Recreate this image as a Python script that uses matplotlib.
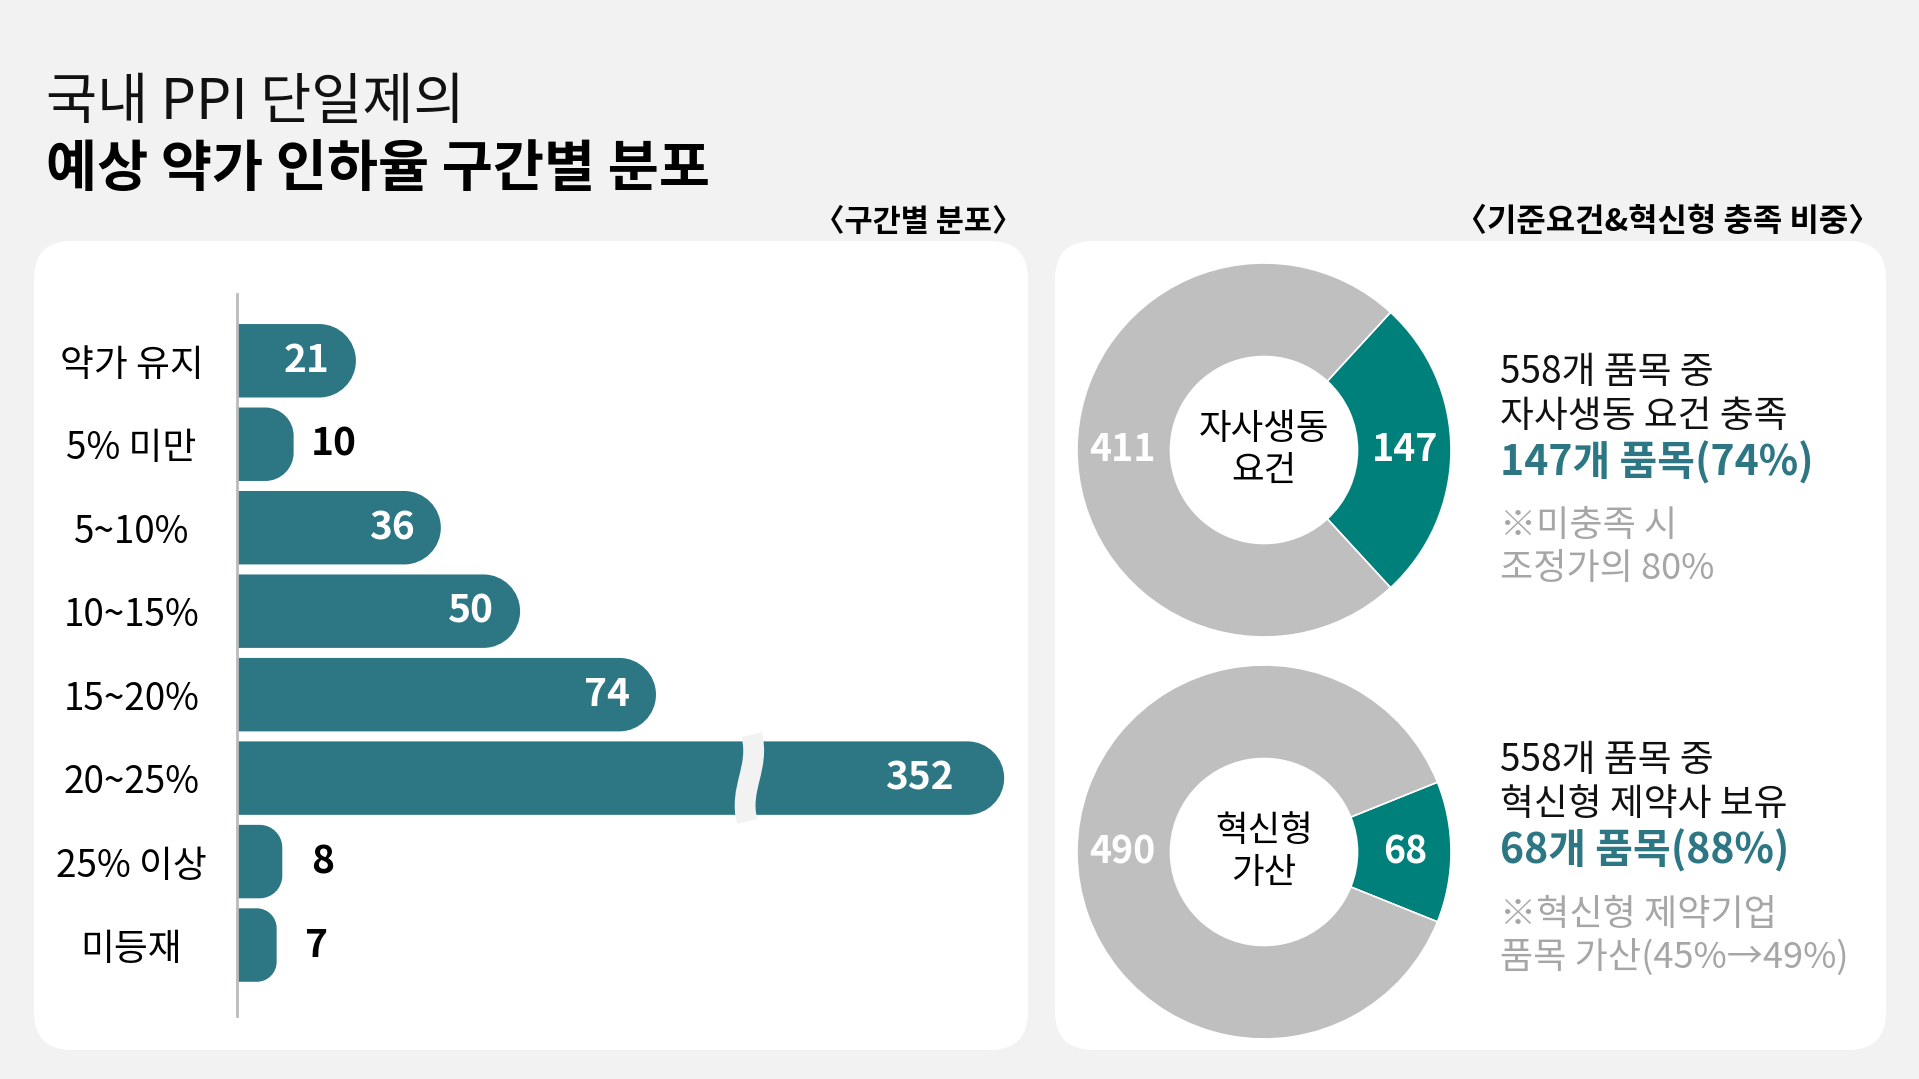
import matplotlib
matplotlib.use("Agg")
import matplotlib.pyplot as plt
from matplotlib.patches import FancyBboxPatch, PathPatch
from matplotlib.path import Path

plt.rcParams['font.family'] = ['Noto Sans CJK KR', 'DejaVu Sans']

# data
categories = ['약가 유지', '5% 미만', '5~10%', '10~15%', '15~20%', '20~25%', '25% 이상', '미등재']
counts = [21, 10, 36, 50, 74, 352, 8, 7]
label_inside = [True, False, True, True, True, True, False, False]

total_items = 558
donut1_values = [147, 411]
donut1_center = '자사생동\n요건'
donut2_values = [68, 490]
donut2_center = '혁신형\n가산'

title_line1 = '국내 PPI 단일제의'
title_line2 = '예상 약가 인하율 구간별 분포'
left_header = '〈구간별 분포〉'
right_header = '〈기준요건&혁신형 충족 비중〉'

note1 = ['558개 품목 중', '자사생동 요건 충족', '147개 품목(74%)', '※미충족 시', '조정가의 80%']
note2 = ['558개 품목 중', '혁신형 제약사 보유', '68개 품목(88%)', '※혁신형 제약기업', '품목 가산(45%→49%)']

# colours
BG = '#f2f2f2'
BAR = '#2d7784'
TEAL = '#00807b'
GREY = '#bfbfbf'
NOTE = '#a6a6a6'

W, H = 1919, 1079
fig = plt.figure(figsize=(W / 100, H / 100), dpi=100, facecolor=BG)

# background layer in pixel coords
bg = fig.add_axes([0, 0, 1, 1], zorder=0)
bg.set_xlim(0, W)
bg.set_ylim(H, 0)
bg.axis('off')

for x0, x1 in [(34, 1028), (1055, 1886)]:
    bg.add_patch(FancyBboxPatch((x0, 241), x1 - x0, 1050 - 241,
                                boxstyle='round,pad=0,rounding_size=38',
                                fc='white', ec='none'))

bg.text(46, 103, title_line1, fontsize=40, va='center', ha='left', color='#111111')
bg.text(46, 170, title_line2, fontsize=40, fontweight='heavy', va='center', ha='left', color='#000000')
bg.text(1022, 222, left_header, fontsize=22, fontweight='bold', va='center', ha='right')
bg.text(1880, 222, right_header, fontsize=23, fontweight='bold', va='center', ha='right')

# bar chart
ax_l, ax_r, ax_t, ax_b = 237, 1007, 294, 1016
ax = fig.add_axes([ax_l / W, 1 - ax_b / H, (ax_r - ax_l) / W, (ax_b - ax_t) / H], zorder=2)
ax.set_facecolor('none')
XMAX = 136
ax.set_xlim(0, XMAX)
ax.set_ylim(7.85, -0.8)
cap = 135.5
bar_h = 0.88
sx = (ax_r - ax_l) / XMAX
sy = (ax_b - ax_t) / 8.65
k = 0.5523

for i, v in enumerate(counts):
    w = min(v, cap)
    hh = bar_h / 2
    r_px = min(bar_h * sy / 2, w * sx / 2)
    rx, ry = r_px / sx, r_px / sy
    top, bot = i - hh, i + hh
    verts = [(0, top), (w - rx, top),
             (w - rx + k * rx, top), (w, top + ry - k * ry), (w, top + ry),
             (w, bot - ry),
             (w, bot - ry + k * ry), (w - rx + k * rx, bot), (w - rx, bot),
             (0, bot), (0, top)]
    codes = [Path.MOVETO, Path.LINETO,
             Path.CURVE4, Path.CURVE4, Path.CURVE4,
             Path.LINETO,
             Path.CURVE4, Path.CURVE4, Path.CURVE4,
             Path.LINETO, Path.CLOSEPOLY]
    ax.add_patch(PathPatch(Path(verts, codes), fc=BAR, ec='none', clip_on=False))
    if label_inside[i]:
        pad = 50 if v > cap else 26
        ax.text(w - pad / sx, i, str(v), ha='right', va='center', color='white',
                fontsize=28, fontweight='bold')
    else:
        ax.text(w + 40 / sx, i, str(v), ha='center', va='center', color='black',
                fontsize=28, fontweight='bold')
    if v > cap:
        brk = Path([(90.9, i - 0.52), (92.4, i - 0.12), (88.6, i + 0.12), (90.1, i + 0.52)],
                   [Path.MOVETO, Path.CURVE4, Path.CURVE4, Path.CURVE4])
        ax.add_patch(PathPatch(brk, fc='none', ec=BG, lw=15, capstyle='butt', clip_on=False))

ax.set_yticks(range(len(categories)), labels=categories)
for lab in ax.get_yticklabels():
    lab.set_ha('center')
ax.tick_params(axis='y', length=0, pad=76, labelsize=26.5)
ax.set_xticks([])
for s in ['top', 'right', 'bottom']:
    ax.spines[s].set_visible(False)
ax.spines['left'].set_color('#bbbbbb')
ax.spines['left'].set_linewidth(2)


# donuts
def donut(cx, cy, values, center_text):
    R = 187
    dax = fig.add_axes([(cx - R) / W, 1 - (cy + R) / H, 2 * R / W, 2 * R / H], zorder=2)
    frac = values[0] / sum(values)
    dax.pie(values, colors=[TEAL, GREY], startangle=-frac * 180, counterclock=True,
            radius=1, wedgeprops=dict(width=0.5, edgecolor='white', linewidth=1.2))
    dax.set_xlim(-1, 1)
    dax.set_ylim(-1, 1)
    dax.set_aspect('equal')
    dax.text(0.755, 0, str(values[0]), ha='center', va='center', color='white',
             fontsize=27, fontweight='bold')
    dax.text(-0.755, 0, str(values[1]), ha='center', va='center', color='white',
             fontsize=27, fontweight='bold')
    dax.text(0, 0, center_text, ha='center', va='center', fontsize=25.5,
             linespacing=1.2, color='black')


donut(1264, 450, donut1_values, donut1_center)
donut(1264, 852, donut2_values, donut2_center)

# notes next to donuts
def notes(lines, ys):
    styles = [dict(color='#111111', fontsize=26.5),
              dict(color='#111111', fontsize=26.5),
              dict(color=BAR, fontsize=29.5, fontweight='bold'),
              dict(color=NOTE, fontsize=26),
              dict(color=NOTE, fontsize=26)]
    for txt, y, st in zip(lines, ys, styles):
        bg.text(1500, y, txt, ha='left', va='center', **st)


notes(note1, [373, 416, 463, 526, 569])
notes(note2, [761, 804, 851, 915, 957])

fig.savefig('out.png', dpi=100, facecolor=BG)
